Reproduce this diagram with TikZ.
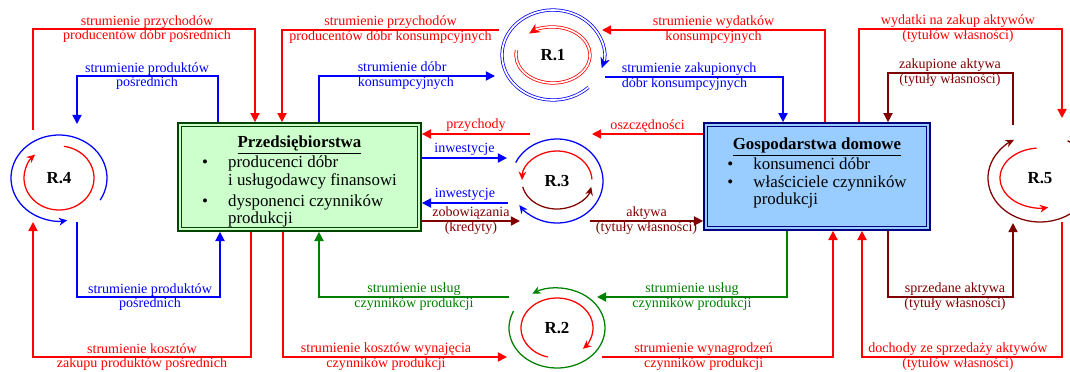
\documentclass[tikz,border=0pt]{standalone}
\usepackage{fontspec}
\setmainfont{Liberation Serif}
\usetikzlibrary{arrows.meta}

\definecolor{firmfill}{RGB}{204,255,204}
\definecolor{firmline}{RGB}{0,70,0}
\definecolor{homefill}{RGB}{153,204,255}
\definecolor{homeline}{RGB}{0,0,128}
\definecolor{flowgreen}{RGB}{0,128,0}
\definecolor{flowmaroon}{RGB}{128,0,0}

\tikzset{
  flow/.style={line width=1.1pt, -{Triangle[length=6.5pt,width=6.5pt]}},
  rflow/.style={flow, red},
  bflow/.style={flow, blue},
  gflow/.style={flow, flowgreen},
  mflow/.style={flow, flowmaroon},
  ringarc/.style={line width=0.9pt, -{Stealth[length=6pt,width=5.5pt]}},
  dbl/.style={double=white, double distance=1.2pt, line width=0.55pt,
    -{Stealth[length=7.5pt,width=7pt]}},
  lbl/.style={font=\fontsize{10}{10.5}\selectfont, align=center, inner sep=0pt},
  ringname/.style={font=\fontsize{12}{12}\selectfont\bfseries, inner sep=0pt},
  sectorbox/.style={draw, line width=1.2pt, inner sep=0pt,
    font=\fontsize{12}{12.5}\selectfont}
}

\begin{document}
\begin{tikzpicture}[x=0.025cm, y=-0.025cm]
\useasboundingbox (0,0) rectangle (1070,371);

% sectors
\node[sectorbox, draw=firmline, fill=firmfill, minimum width=6.075cm, minimum height=2.7cm] (P) at (299.5,177) {%
  \begin{tabular}{@{}p{0.65cm}@{}l@{}}
  \multicolumn{2}{@{}c@{}}{\rule{0pt}{16pt}\textbf{\underline{Przedsiębiorstwa}}}\\[2pt]
  \textbullet & producenci dóbr\\
   & i usługodawcy finansowi\\[2.5pt]
  \textbullet & dysponenci czynników\\
   & produkcji
  \end{tabular}};
\draw[firmline, line width=0.6pt] ([shift={(4,4)}]P.north west) rectangle ([shift={(-4,-4)}]P.south east);

\node[sectorbox, draw=homeline, fill=homefill, minimum width=5.65cm, minimum height=2.675cm] (G) at (817,176.5) {%
  \begin{tabular}{@{}p{0.65cm}@{}l@{}}
  \multicolumn{2}{@{}c@{}}{\textbf{\underline{Gospodarstwa domowe}}}\\[1.5pt]
  \textbullet & konsumenci dóbr\\
  \textbullet & właściciele czynników\\
   & produkcji\\[4pt]
  \end{tabular}};
\draw[homeline, line width=0.6pt] ([shift={(4,4)}]G.north west) rectangle ([shift={(-4,-4)}]G.south east);

% rings
\node[ringname] (R1) at (553,55) {R.1};
\node[ringname] (R2) at (557,328) {R.2};
\node[ringname] (R3) at (557,181) {R.3};
\node[ringname] (R4) at (59,178) {R.4};
\node[ringname] (R5) at (1040,178) {R.5};

\draw[ringarc, blue, dbl] ([shift={(46:51 and 45)}]R1.center) arc[start angle=46, end angle=377, x radius=51, y radius=45];
\draw[ringarc, red, dbl] ([shift={(190:37 and 28)}]R1.center) arc[start angle=190, end angle=-130, x radius=37, y radius=28];
\draw[ringarc, flowgreen] ([shift={(205:48 and 40)}]R2.center) arc[start angle=205, end angle=-121, x radius=48, y radius=40];
\draw[ringarc, red] ([shift={(105:36 and 30)}]R2.center) arc[start angle=105, end angle=404, x radius=36, y radius=30];
\draw[ringarc, blue] ([shift={(206:46 and 42)}]R3.center) arc[start angle=206, end angle=505, x radius=46, y radius=42];
\draw[ringarc, red] ([shift={(-3:35 and 30)}]R3.center) arc[start angle=-3, end angle=-178, x radius=35, y radius=30];
\draw[ringarc, flowmaroon] ([shift={(168:35 and 28)}]R3.center) arc[start angle=168, end angle=12, x radius=35, y radius=28];
\draw[ringarc, blue] ([shift={(31:48 and 43)}]R4.center) arc[start angle=31, end angle=-280, x radius=48, y radius=43];
\draw[ringarc, red] ([shift={(278:35 and 32)}]R4.center) arc[start angle=278, end angle=587, x radius=35, y radius=32];
\draw[ringarc, flowmaroon] ([shift={(302:52 and 44)}]R5.center) arc[start angle=302, end angle=600, x radius=52, y radius=44];
\draw[ringarc, red] ([shift={(265:40 and 30)}]R5.center) arc[start angle=265, end angle=78, x radius=40, y radius=30];

% ports of the rings
\coordinate (R4nw) at (33,130);
\coordinate (R4ne) at (77,124);
\coordinate (R4sw) at (33,222);
\coordinate (R4se) at (77,222);
\coordinate (R1wn) at (499,30);
\coordinate (R1ws) at (495,76);
\coordinate (R1en) at (602,30);
\coordinate (R1es) at (605,77);
\coordinate (R5nw) at (1013,125);
\coordinate (R5ne) at (1062,118);
\coordinate (R5sw) at (1013,223);
\coordinate (R5se) at (1062,222);
\coordinate (R3a) at (530,134);
\coordinate (R3b) at (507,158);
\coordinate (R3c) at (508,203);
\coordinate (R3d) at (520,221);
\coordinate (R3e) at (592,134);
\coordinate (R3f) at (590,221);
\coordinate (R2wn) at (509,297);
\coordinate (R2ws) at (507,357);
\coordinate (R2en) at (597,297);
\coordinate (R2es) at (602,357);

% upper flows
\draw[rflow] (R4nw) |- (147,29) node[lbl]{strumienie przychodów\\producentów dóbr pośrednich} -| (P.north -| 255,0);
\draw[bflow] (P.north -| 218,0) |- (147,76) node[lbl]{strumienie produktów\\pośrednich} -| (R4ne);
\draw[rflow] (R1wn) -| node[lbl, pos=0.25]{strumienie przychodów\\producentów dóbr konsumpcyjnych} (P.north -| 282,0);
\draw[bflow] (P.north -| 319,0) |- (357,76) node[lbl, anchor=west, align=left]{strumienie dóbr\\konsumpcyjnych} -- (R1ws);
\draw[rflow] (G.north -| 825,0) |- node[lbl, pos=0.75]{strumienie wydatków\\konsumpcyjnych} (R1en);
\draw[bflow] (R1es) -- (621,77) node[lbl, anchor=west, align=left]{strumienie zakupionych\\dóbr konsumpcyjnych} -| (G.north -| 783,0);
\draw[rflow] (G.north -| 859,0) |- (958,29) node[lbl]{wydatki na zakup aktywów\\(tytułów własności)} -| (R5ne);
\draw[mflow] (R5nw) |- (950,73) node[lbl]{zakupione aktywa\\(tytuły własności)} -| (G.north -| 888,0);

% middle flows
\draw[rflow] (R3a) -- node[lbl, above=1pt]{przychody} (P.east |- R3a);
\draw[rflow] (G.west |- R3e) -- node[lbl, above=1pt]{oszczędności} (R3e);
\draw[bflow] (P.east |- R3b) -- node[lbl, above=1pt]{inwestycje} (R3b);
\draw[bflow] (R3c) -- node[lbl, above=1pt]{inwestycje} (P.east |- R3c);
\draw[mflow] (P.east |- R3d) -- node[lbl]{zobowiązania\\(kredyty)} (R3d);
\draw[mflow] (R3f) -- node[lbl]{aktywa\\(tytuły własności)} (G.west |- R3f);

% lower flows
\draw[rflow] (P.south -| 251,0) |- (142,357) node[lbl]{strumienie kosztów\\zakupu produktów pośrednich} -| (R4sw);
\draw[bflow] (R4se) |- (150,297) node[lbl]{strumienie produktów\\pośrednich} -| (P.south -| 220,0);
\draw[rflow] (P.south -| 283,0) |- node[lbl, pos=0.73]{strumienie kosztów wynajęcia\\czynników produkcji} (R2ws);
\draw[gflow] (R2wn) -| node[lbl, pos=0.25]{strumienie usług\\czynników produkcji} (P.south -| 319,0);
\draw[gflow] (G.south -| 787,0) |- node[lbl, pos=0.75]{strumienie usług\\czynników produkcji} (R2en);
\draw[rflow] (R2es) -| node[lbl, pos=0.22]{strumienie wynagrodzeń\\czynników produkcji} (G.south -| 833,0);
\draw[mflow] (G.south -| 888,0) |- (955,297) node[lbl]{sprzedane aktywa\\(tytuły własności)} -| (R5sw);
\draw[rflow] (R5se) |- (958,357) node[lbl]{dochody ze sprzedaży aktywów\\(tytułów własności)} -| (G.south -| 862,0);
\end{tikzpicture}
\end{document}
